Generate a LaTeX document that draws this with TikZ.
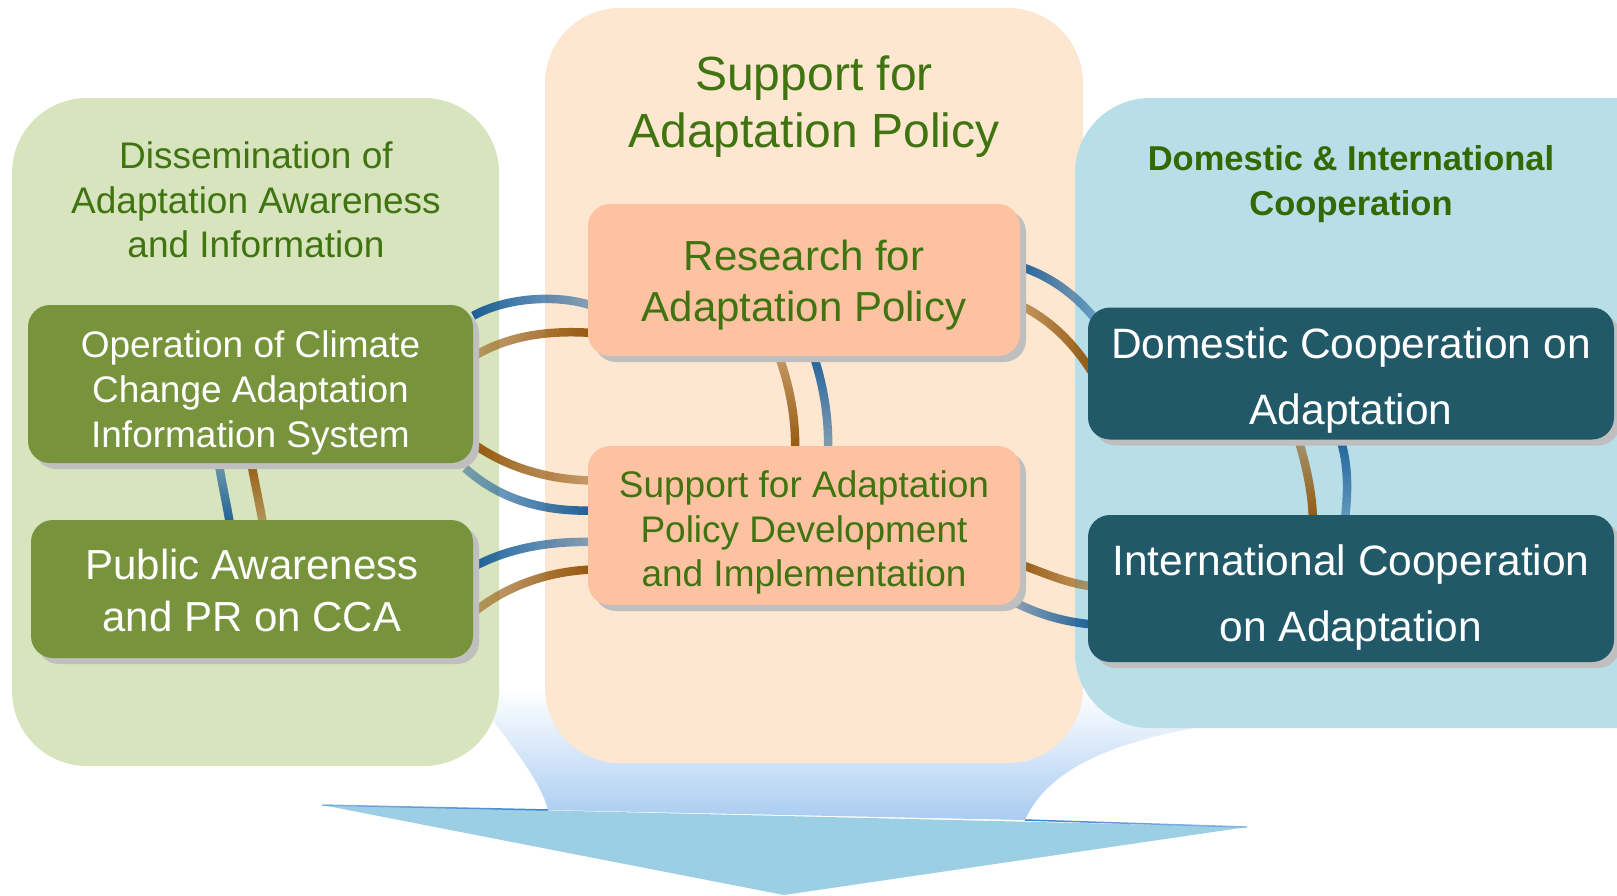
\documentclass[tikz,border=0pt]{standalone}
\usepackage{fontspec}
\setmainfont{Liberation Sans}
\usetikzlibrary{fadings,calc,shadows}
\definecolor{panelG}{HTML}{D7E4BD}
\definecolor{panelO}{HTML}{FDE7D1}
\definecolor{panelB}{HTML}{B8DEE8}
\definecolor{boxG}{HTML}{77933C}
\definecolor{boxO}{HTML}{FCC2A2}
\definecolor{boxT}{HTML}{215968}
\definecolor{shadowc}{HTML}{BFBFBF}
\definecolor{txtG}{HTML}{3F7410}
\definecolor{txtGd}{HTML}{336A00}
\definecolor{arcBlue}{HTML}{1A5E98}
\definecolor{arcBrown}{HTML}{94560A}
\definecolor{headBlue}{HTML}{9CCFE4}
\definecolor{shaftBlue}{HTML}{A9CCF2}
\definecolor{edgeBlue}{HTML}{3A80D0}
\tikzfading[name=fadeE, left color=transparent!0, right color=transparent!50]
\tikzfading[name=fadeW, left color=transparent!50, right color=transparent!0]
\tikzfading[name=fadeN, top color=transparent!50, bottom color=transparent!0]
\tikzfading[name=fadeS, top color=transparent!0, bottom color=transparent!50]
\pgfdeclarelayer{bg}
\pgfdeclarelayer{arcs}
\pgfsetlayers{bg,arcs,main}
\newcommand\lns[2]{\raisebox{#1}[\height][\depth]{\begin{tabular}{@{}c@{}}#2\end{tabular}}}
\tikzset{
  panel/.style={rounded corners=75pt, inner sep=0pt, draw=none},
  bx/.style={rounded corners=22pt, inner sep=0pt, draw=none,
    general shadow={fill=shadowc, shadow xshift=6pt, shadow yshift=-6pt}},
  gbox/.style={bx, fill=boxG, text=white},
  obox/.style={bx, fill=boxO, text=txtG},
  tbox/.style={bx, fill=boxT, text=white},
  ttl/.style={align=center, text=txtG, inner sep=0pt},
  arcb/.style={draw=arcBlue, line width=8.5pt},
  arcr/.style={draw=arcBrown, line width=8.5pt}
}
\begin{document}
\begin{tikzpicture}[x=1pt,y=-1pt]
\useasboundingbox (0,0) rectangle (1617,895);
\begin{pgfonlayer}{bg}
  % big arrow
  \shade[top color=white, bottom color=shaftBlue]
    (470,690) .. controls (515,750) and (540,780) .. (548,810)
    -- (1025,820) .. controls (1045,775) and (1100,745) .. (1195,728)
    -- (1195,690) -- cycle;
  \fill[headBlue] (322,805) -- (1247,827) -- (784,895) -- cycle;
  \draw[edgeBlue, line width=1.5pt, path fading=fadeW] (322,805) -- (548,810);
  \draw[edgeBlue, line width=1.5pt, path fading=fadeE] (1025,820) -- (1247,827);
  % panels
  \node[panel, fill=panelG, minimum width=487, minimum height=668] (lp) at (255.5,432) {};
  \node[panel, fill=panelO, minimum width=538, minimum height=755] (mp) at (814,385.5) {};
  \node[panel, fill=panelB, minimum width=625, minimum height=630] (rp) at (1387.5,413) {};
\end{pgfonlayer}

% panel titles
\node[ttl, font=\fontsize{37}{44.5}\selectfont] (lt) at (256,200) {Dissemination of\\Adaptation Awareness\\and Information};
\node[ttl, font=\fontsize{48}{57}\selectfont] (mt) at (814,107) {Support for\\Adaptation Policy};
\node[ttl, text=txtGd, font=\fontsize{34.5}{45}\selectfont\bfseries] (rt) at (1351,184) {Domestic \& International\\Cooperation};

% boxes
\node[gbox, minimum width=445, minimum height=158, font=\fontsize{37}{45}\selectfont] (op) at (250.5,384) {\lns{-9pt}{Operation of Climate\\Change Adaptation\\Information System}};
\node[gbox, minimum width=442, minimum height=138, font=\fontsize{42}{52}\selectfont] (pub) at (252,589) {\lns{-6pt}{Public Awareness\\and PR on CCA}};
\node[obox, minimum width=432, minimum height=152, font=\fontsize{42}{51}\selectfont] (rs) at (804,280) {\lns{-6pt}{Research for\\Adaptation Policy}};
\node[obox, minimum width=432, minimum height=159, font=\fontsize{37}{44.5}\selectfont] (sp) at (804,525.5) {\lns{-8pt}{Support for Adaptation\\Policy Development\\and Implementation}};
\node[tbox, minimum width=526, minimum height=129, font=\fontsize{42.5}{66}\selectfont] (dom) at (1351,373.5) {\lns{-5pt}{Domestic Cooperation on\\Adaptation}};
\node[tbox, minimum width=526, minimum height=147, font=\fontsize{42.5}{66}\selectfont] (int) at (1351,588.5) {\lns{-7pt}{International Cooperation\\on Adaptation}};

\begin{pgfonlayer}{arcs}
  % op <-> research
  \draw[arcb, path fading=fadeE] ([yshift=-11pt]op.north east) .. controls (505,298) and (555,294) .. ([xshift=2pt,yshift=-25pt]rs.west);
  \draw[arcr, path fading=fadeW] ([xshift=-5pt,yshift=24pt]op.east) .. controls (505,335) and (550,330) .. ([xshift=5pt,yshift=-53pt]rs.west);
  % op <-> support
  \draw[arcr, path fading=fadeE] ([xshift=-5pt,yshift=-56pt]op.east) .. controls (505,468) and (550,480) .. ([xshift=5pt,yshift=45pt]sp.west);
  \draw[arcb, path fading=fadeW] ([xshift=-8pt,yshift=-5pt]op.south east) .. controls (500,500) and (545,512) .. ([xshift=5pt,yshift=15pt]sp.west);
  % public <-> support
  \draw[arcb, path fading=fadeE] ([xshift=-5pt,yshift=19pt]pub.east) .. controls (505,548) and (550,541) .. ([xshift=5pt,yshift=-16.5pt]sp.west);
  \draw[arcr, path fading=fadeW] ([xshift=-5pt,yshift=-28pt]pub.east) .. controls (505,585) and (550,571) .. ([xshift=5pt,yshift=-44pt]sp.west);
  % research <-> support
  \draw[arcr, path fading=fadeN] ([xshift=-27pt,yshift=5pt]rs.south) .. controls (790,385) and (796,420) .. ([xshift=-9pt,yshift=-5pt]sp.north);
  \draw[arcb, path fading=fadeS] ([xshift=8pt,yshift=5pt]rs.south) .. controls (824,385) and (829,420) .. ([xshift=24pt,yshift=-5pt]sp.north);
  % research <-> domestic
  \draw[arcb, path fading=fadeE] ([xshift=-5pt,yshift=15pt]rs.east) .. controls (1050,275) and (1075,295) .. ([xshift=6pt,yshift=-10pt]dom.north west);
  \draw[arcr, path fading=fadeW] ([xshift=-5pt,yshift=-23pt]rs.east) .. controls (1050,318) and (1075,345) .. ([xshift=5pt]dom.west);
  % support <-> international
  \draw[arcr, path fading=fadeE] ([xshift=-5pt,yshift=-37pt]sp.east) .. controls (1045,573) and (1065,583) .. ([xshift=5pt,yshift=2pt]int.west);
  \draw[arcb, path fading=fadeW] ([xshift=-5pt,yshift=-77pt]sp.east) .. controls (1040,615) and (1065,622) .. ([xshift=5pt,yshift=-36pt]int.west);
  % domestic <-> international
  \draw[arcr, path fading=fadeN] ([xshift=-54pt,yshift=5pt]dom.south) .. controls (1306,465) and (1312,490) .. ([xshift=-38pt,yshift=-5pt]int.north);
  \draw[arcb, path fading=fadeS] ([xshift=-12pt,yshift=5pt]dom.south) .. controls (1349,465) and (1348,490) .. ([xshift=-6pt,yshift=-5pt]int.north);
  % op <-> public
  \draw[arcb, path fading=fadeN] ([xshift=-32.5pt,yshift=5pt]op.south) .. controls (222,485) and (227,505) .. ([xshift=-22pt,yshift=-5pt]pub.north);
  \draw[arcr, path fading=fadeS] ([yshift=5pt]op.south) .. controls (255,485) and (260,505) .. ([xshift=11pt,yshift=-5pt]pub.north);
\end{pgfonlayer}
\end{tikzpicture}
\end{document}
